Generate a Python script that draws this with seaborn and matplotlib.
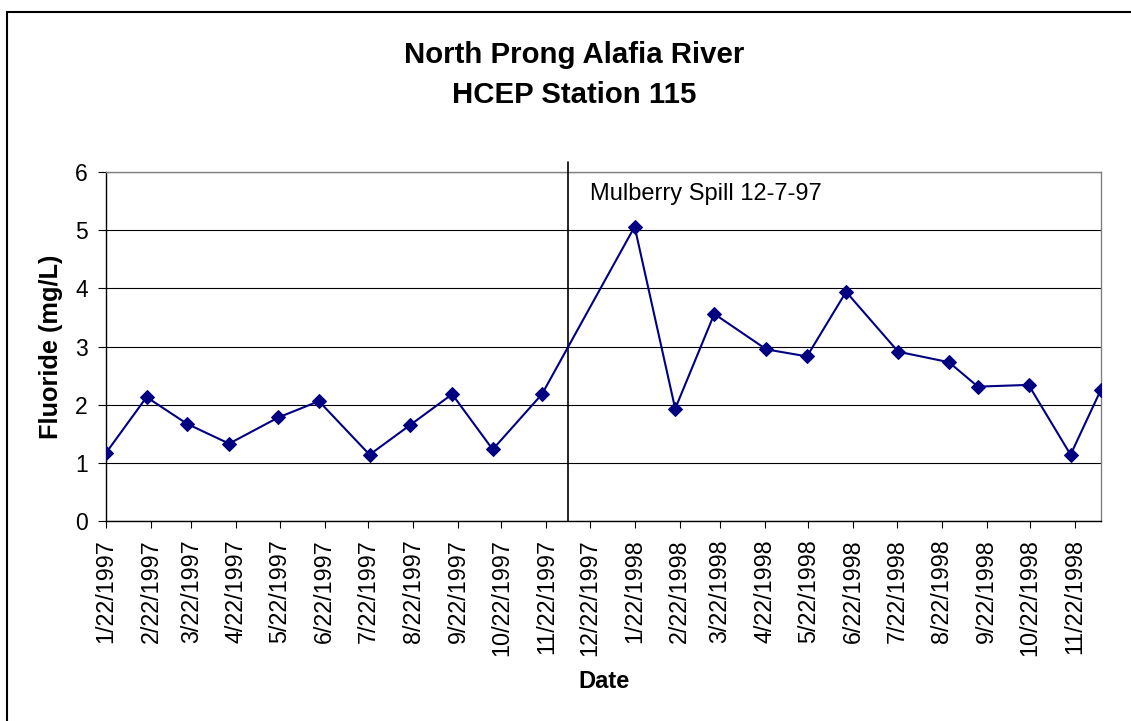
import numpy as np
import pandas as pd
import matplotlib
matplotlib.use("Agg")
import matplotlib.pyplot as plt
from matplotlib.lines import Line2D
import seaborn as sns

# data
sample_dates = ["1997-01-22", "1997-02-19", "1997-03-19", "1997-04-17", "1997-05-21",
                "1997-06-18", "1997-07-23", "1997-08-20", "1997-09-18", "1997-10-16",
                "1997-11-19", "1998-01-22", "1998-02-19", "1998-03-18", "1998-04-23",
                "1998-05-21", "1998-06-17", "1998-07-23", "1998-08-27", "1998-09-16",
                "1998-10-21", "1998-11-19", "1998-12-10"]
fluoride = [1.17, 2.13, 1.67, 1.33, 1.78, 2.06, 1.14, 1.65, 2.18, 1.23, 2.18,
            5.06, 1.93, 3.56, 2.95, 2.83, 3.94, 2.91, 2.73, 2.31, 2.34, 1.14, 2.26]
spill_date = "1997-12-07"
spill_label = "Mulberry Spill 12-7-97"
title_lines = ["North Prong Alafia River", "HCEP Station 115"]
y_ticks = [0, 1, 2, 3, 4, 5, 6]

df = pd.DataFrame({"Date": pd.to_datetime(sample_dates), "Fluoride": fluoride})
tick_dates = pd.date_range("1997-01-22", "1998-11-22", freq=pd.DateOffset(months=1))
tick_labels = [f"{d.month}/{d.day}/{d.year}" for d in tick_dates]

sns.set_theme(style="white")
plt.rcParams["font.family"] = ["Liberation Sans", "DejaVu Sans"]
plt.rcParams["text.color"] = "black"
plt.rcParams["axes.labelcolor"] = "black"
plt.rcParams["xtick.color"] = "black"
plt.rcParams["ytick.color"] = "black"

fig = plt.figure(figsize=(11.31, 7.21), dpi=100)
ax = fig.add_axes([106 / 1131, 1 - 521 / 721, (1101 - 106) / 1131, (521 - 172) / 721])

sns.lineplot(data=df, x="Date", y="Fluoride", ax=ax, color="#000080", lw=1.5,
             marker="D", markersize=7, markeredgecolor="#000080", zorder=5)

ax.set_xlim(df["Date"].min(), df["Date"].max())
ax.set_ylim(0, 6)
ax.set_yticks(y_ticks)
ax.set_yticklabels([str(v) for v in y_ticks], fontsize=16.5)
ax.set_xticks(tick_dates)
ax.set_xticklabels(tick_labels, rotation=90, fontsize=16.8)
ax.grid(axis="y", color="black", lw=0.8)
ax.grid(axis="x", visible=False)
ax.tick_params(axis="y", direction="out", length=6, width=0.8, pad=7, left=True, colors="black")
ax.tick_params(axis="x", direction="out", length=5, width=0.8, pad=8, bottom=True, colors="black")
for side in ["left", "bottom"]:
    ax.spines[side].set_color("black")
    ax.spines[side].set_linewidth(1.0)
for side in ["top", "right"]:
    ax.spines[side].set_color("#808080")
    ax.spines[side].set_linewidth(1.0)

ax.set_xlabel("Date", fontsize=17, fontweight="bold", labelpad=10, color="black")
ax.set_ylabel("Fluoride (mg/L)", fontsize=18.3, fontweight="bold", labelpad=9, color="black")

# spill marker line
spill = pd.Timestamp(spill_date)
ax.axvline(spill, ymin=0, ymax=1.03, color="black", lw=1.2, clip_on=False, zorder=4)
ax.annotate(spill_label, xy=(spill, 5.63), xytext=(16, 0), textcoords="offset points",
            fontsize=17, va="center", ha="left", color="black")

fig.text(574 / 1131, 1 - 55 / 721, title_lines[0], fontsize=21.2, fontweight="bold",
         ha="center", va="center", color="black")
fig.text(574 / 1131, 1 - 95 / 721, title_lines[1], fontsize=21.2, fontweight="bold",
         ha="center", va="center", color="black")

# chart-area frame (top and left edges visible)
fig.add_artist(Line2D([7 / 1131, 1.0], [1 - 12 / 721, 1 - 12 / 721], color="black", lw=1.5))
fig.add_artist(Line2D([7 / 1131, 7 / 1131], [0, 1 - 12 / 721], color="black", lw=1.5))

fig.savefig("out.png", dpi=100, facecolor="white")
